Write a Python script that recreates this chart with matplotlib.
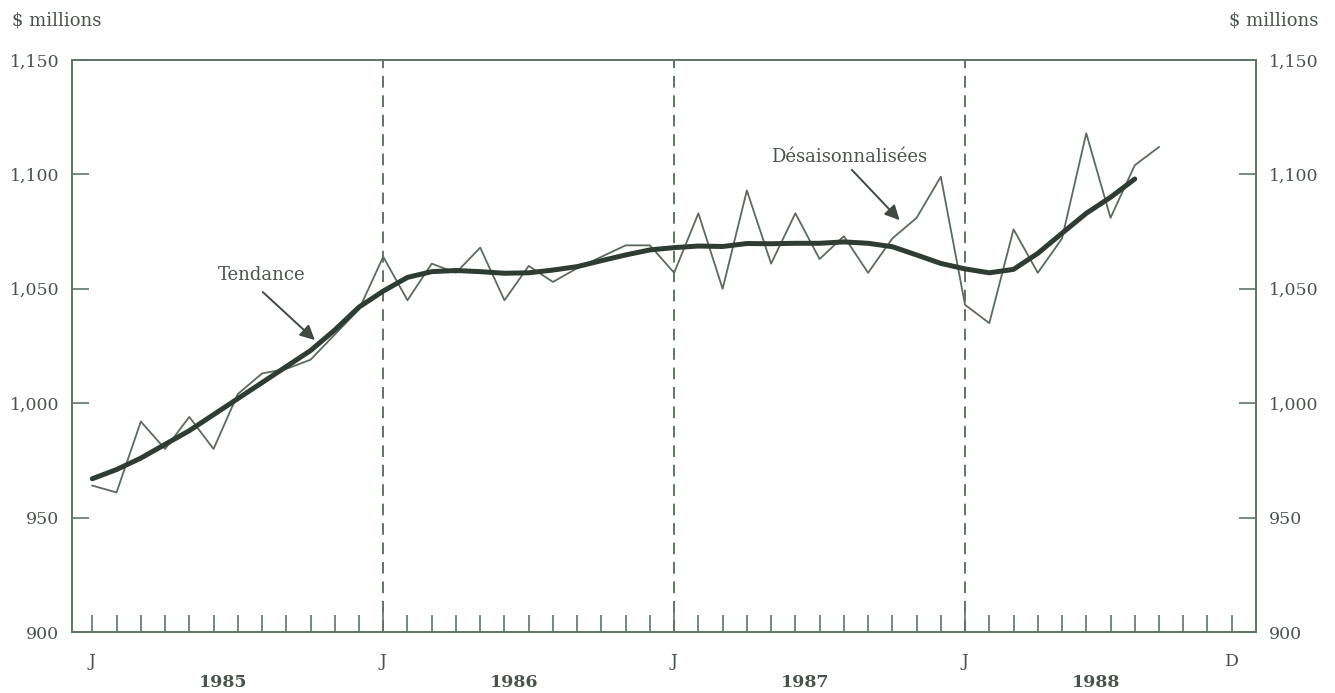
import numpy as np
import matplotlib.pyplot as plt
from matplotlib.transforms import blended_transform_factory

# monthly index: 0 = Jan 1985 ... 47 = Dec 1988
unadj = [964, 961, 992, 980, 994, 980, 1004, 1013, 1015, 1019, 1030, 1041,
         1064, 1045, 1061, 1057, 1068, 1045, 1060, 1053, 1059, 1064, 1069, 1069,
         1057, 1083, 1050, 1093, 1061, 1083, 1063, 1073, 1057, 1072, 1081, 1099,
         1043, 1035, 1076, 1057, 1072, 1118, 1081, 1104, 1112]
trend = [967, 971, 976, 982, 988, 995, 1002, 1009, 1016, 1023, 1032, 1042,
         1049, 1055, 1057.5, 1058, 1057.5, 1056.8, 1057, 1058.2, 1059.7, 1062.3, 1064.8, 1067,
         1068, 1068.7, 1068.5, 1069.8, 1069.7, 1069.9, 1069.9, 1070.5, 1069.9, 1068.4, 1064.8, 1061.1,
         1058.7, 1057, 1058.5, 1065.5, 1074.3, 1083, 1090, 1098]
years = ['1985', '1986', '1987', '1988']
month_labels = {0: 'J', 12: 'J', 24: 'J', 36: 'J', 47: 'D'}
yticks = [900, 950, 1000, 1050, 1100, 1150]

frame_col = '#5f7563'
thin_col = '#5b6b5d'
thick_col = '#2f3c33'
text_col = '#4a544c'

plt.rcParams['font.family'] = 'DejaVu Serif'
plt.rcParams['font.size'] = 12.5

fig = plt.figure(figsize=(13.35, 6.93), dpi=100)
ax = fig.add_axes([0.0539, 0.088, 0.8869, 0.8254])

ax.plot(np.arange(len(unadj)), unadj, color=thin_col, lw=1.3, zorder=3)
ax.plot(np.arange(len(trend)), trend, color=thick_col, lw=3.6,
        solid_capstyle='round', solid_joinstyle='round', zorder=4)

for m in [12, 24, 36]:
    ax.axvline(m, color=frame_col, lw=1.4, dashes=(6, 4), zorder=1)

ax.set_xlim(-0.84, 48.0)
ax.set_ylim(900, 1150)

for s in ax.spines.values():
    s.set_color(frame_col)
    s.set_linewidth(1.4)

ax.set_yticks(yticks)
ax.set_yticklabels([f'{v:,}' for v in yticks])
ax.tick_params(axis='y', direction='in', length=12, width=1.2, color=frame_col,
               labelcolor=text_col, labelsize=12.5, pad=9, left=True, right=True,
               labelleft=True, labelright=True)

ax.set_xticks([12, 24, 36])
ax.set_xticks(np.arange(48), minor=True)
ax.tick_params(axis='x', which='major', direction='in', length=18, width=1.2,
               color=frame_col, labelbottom=False)
ax.tick_params(axis='x', which='minor', direction='in', length=12, width=1.2,
               color=frame_col, labelbottom=False)

tr = blended_transform_factory(ax.transData, ax.transAxes)
for m, lab in month_labels.items():
    ax.text(m, -0.052, lab, transform=tr, ha='center', va='center',
            color=text_col, fontsize=12.5)
for i, yr in enumerate(years):
    ax.text(5.4 + 12 * i, -0.089, yr, transform=tr, ha='center', va='center',
            color=text_col, fontsize=12.5, fontweight='bold')

fig.text(12 / 1335, 1 - 20 / 693, '$ millions', ha='left', va='center',
         color=text_col, fontsize=13)
fig.text(1318 / 1335, 1 - 20 / 693, '$ millions', ha='right', va='center',
         color=text_col, fontsize=13)

ax.text(7.0, 1056, 'Tendance', ha='center', va='center', color=text_col, fontsize=13)
ax.annotate('', xy=(9.18, 1027.6), xytext=(7.03, 1048.6),
            arrowprops=dict(arrowstyle='-|>', mutation_scale=22, lw=1.4,
                            color='#3f4a42', shrinkA=0, shrinkB=0))
ax.text(31.2, 1107.6, 'Désaisonnalisées', ha='center', va='center',
        color=text_col, fontsize=13)
ax.annotate('', xy=(33.3, 1080), xytext=(31.33, 1102),
            arrowprops=dict(arrowstyle='-|>', mutation_scale=22, lw=1.4,
                            color='#3f4a42', shrinkA=0, shrinkB=0))

plt.savefig('out.png', dpi=100)
